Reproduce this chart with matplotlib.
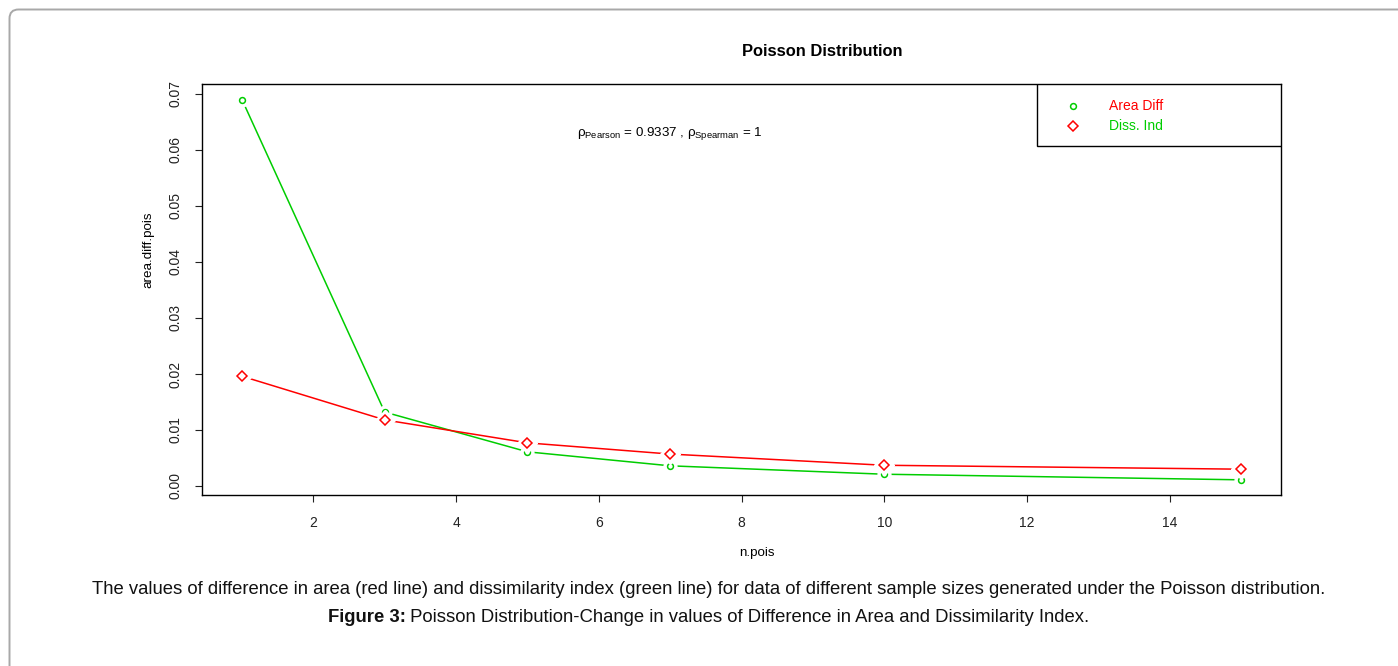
import matplotlib
matplotlib.use("Agg")
import matplotlib.pyplot as plt
from matplotlib.lines import Line2D
from matplotlib.patches import FancyBboxPatch, Rectangle
from matplotlib.offsetbox import HPacker, TextArea, AnnotationBbox
from matplotlib.transforms import IdentityTransform

plt.rcParams["font.family"] = ["Liberation Sans", "DejaVu Sans"]
plt.rcParams["mathtext.fontset"] = "custom"
plt.rcParams["mathtext.rm"] = "Liberation Sans"
plt.rcParams["mathtext.it"] = "Liberation Sans"

# data
n_pois = [1, 3, 5, 7, 10, 15]
area_diff = [0.0690, 0.0132, 0.0061, 0.0036, 0.0021, 0.0011]
diss_ind = [0.0196, 0.0118, 0.0077, 0.0057, 0.0037, 0.0030]
x_ticks = [2, 4, 6, 8, 10, 12, 14]
y_ticks = [0.00, 0.01, 0.02, 0.03, 0.04, 0.05, 0.06, 0.07]

GREEN = "#00CD00"
RED = "#FF0000"

W, H = 1398, 666
fig = plt.figure(figsize=(W / 100, H / 100), dpi=100)

# page frame (rounded top-left corner, runs off right and bottom)
frame = FancyBboxPatch((9.5, -60), 1500, H - 9.5 + 60, boxstyle="round,pad=0,rounding_size=9",
                       transform=IdentityTransform(), facecolor="none", edgecolor="#a8a8a8", linewidth=1.4)
fig.patches.append(frame)

ax = fig.add_axes([202 / W, 1 - 495 / H, (1281 - 202) / W, (495 - 84) / H])


def draw_b(x, y, color, marker, ms, z):
    # R type="b": line with a small gap around each point
    ax.plot(x, y, color=color, linewidth=1.1, zorder=z)
    ax.plot(x, y, linestyle="none", marker=marker, markersize=ms + 5, markerfacecolor="white",
            markeredgecolor="white", zorder=z + 0.1)
    ax.plot(x, y, linestyle="none", marker=marker, markersize=ms, markerfacecolor="white",
            markeredgecolor=color, markeredgewidth=1.1, zorder=z + 0.2)


draw_b(n_pois, area_diff, GREEN, "o", 4.2, 3)
draw_b(n_pois, diss_ind, RED, "D", 5.2, 4)

ax.set_xlim(0.44, 15.56)
ax.set_ylim(-0.00161, 0.07178)
ax.set_xticks(x_ticks)
ax.set_yticks(y_ticks)
ax.set_yticklabels([f"{v:.2f}" for v in y_ticks])
ax.tick_params(axis="both", direction="out", length=5, width=0.8, labelsize=10, colors="#222222")
ax.tick_params(axis="x", pad=10)
ax.tick_params(axis="y", pad=9, labelrotation=90)
for lab in ax.get_yticklabels():
    lab.set_va("center")
for sp in ax.spines.values():
    sp.set_linewidth(1.0)
    sp.set_color("black")

ax.set_xlabel("n.pois", fontsize=9.6)
ax.xaxis.set_label_coords((757 - 202) / 1079, (495 - 547) / 411)
ax.set_ylabel("area.diff.pois", fontsize=9.6)
ax.yaxis.set_label_coords((154 - 202) / 1079, (495 - 250) / 411)

fig.text(822 / W, 1 - 51 / H, "Poisson Distribution", fontsize=11.9, fontweight="bold",
         ha="center", va="center")

ax.text((670 - 202) / 1079, (495 - 134) / 411,
        r"$\rho_{\mathrm{Pearson}}$ = 0.9337 , $\rho_{\mathrm{Spearman}}$ = 1",
        transform=ax.transAxes, ha="center", va="center", fontsize=9.6)

# legend box like R's legend()
lx0, ly0 = (1037 - 202) / 1079, (495 - 146) / 411
ax.add_patch(Rectangle((lx0, ly0), 1 - lx0, 1 - ly0, transform=ax.transAxes, facecolor="white",
                       edgecolor="black", linewidth=1.0, zorder=10))
mx, tx = (1073 - 202) / 1079, (1109 - 202) / 1079
r1, r2 = (495 - 106) / 411, (495 - 126) / 411
ax.add_line(Line2D([mx], [r1], transform=ax.transAxes, marker="o", markersize=4.2, linestyle="none",
                   markerfacecolor="white", markeredgecolor=GREEN, markeredgewidth=1.1, zorder=11))
ax.add_line(Line2D([mx], [r2], transform=ax.transAxes, marker="D", markersize=5.2, linestyle="none",
                   markerfacecolor="white", markeredgecolor=RED, markeredgewidth=1.1, zorder=11))
ax.text(tx, r1, "Area Diff", transform=ax.transAxes, color=RED, fontsize=10, va="center", ha="left", zorder=11)
ax.text(tx, r2, "Diss. Ind", transform=ax.transAxes, color=GREEN, fontsize=10, va="center", ha="left", zorder=11)

# caption
cap_font = ["Liberation Sans Narrow", "Liberation Sans", "DejaVu Sans"]
fig.text(708.5 / W, 1 - 589 / H,
         "The values of difference in area (red line) and dissimilarity index (green line) for data of "
         "different sample sizes generated under the Poisson distribution.",
         ha="center", va="center", fontsize=13.3, family=cap_font, color="#111111")
bold_part = TextArea("Figure 3:", textprops=dict(fontsize=13.3, fontweight="bold", family=cap_font, color="#111111"))
rest_part = TextArea(" Poisson Distribution-Change in values of Difference in Area and Dissimilarity Index.",
                     textprops=dict(fontsize=13.3, family=cap_font, color="#111111"))
packed = HPacker(children=[bold_part, rest_part], align="baseline", pad=0, sep=0)
ab = AnnotationBbox(packed, (708.5 / W, 1 - 618 / H), xycoords="figure fraction", frameon=False,
                    box_alignment=(0.5, 0.5), pad=0)
fig.add_artist(ab)

fig.savefig("out.png", dpi=100)
